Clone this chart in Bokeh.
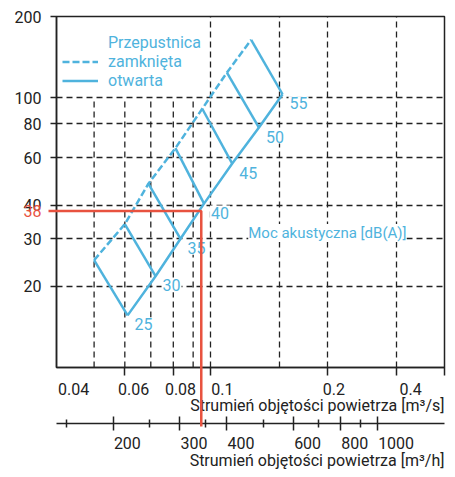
import math
from bokeh.plotting import figure
from bokeh.models import (Range1d, LogAxis, FixedTicker, Legend, LegendItem, Label, Title)
from bokeh.core.properties import value
from bokeh.embed import file_html
from bokeh.resources import INLINE

# ---------------- data ----------------
db_levels = [25, 30, 35, 40, 45, 50, 55]
closed_flow = [0.050, 0.060, 0.069, 0.081, 0.095, 0.110, 0.127]   # m3/s, damper closed
closed_dp = [25, 34, 48, 65, 91, 124, 164]                         # Pa
open_flow = [0.061, 0.072, 0.0835, 0.096, 0.1135, 0.133, 0.153]   # m3/s, damper open
open_dp = [15.6, 21.8, 30, 40.5, 57, 77.5, 103]                    # Pa

read_dp = 38            # Pa, example reading
read_flow_m3h = 340     # m3/h, example reading

y_ticks = [20, 30, 40, 60, 80, 100, 200]
x_ticks = [0.06, 0.08, 0.1, 0.2, 0.3, 0.4]
x_label_at = [0.0443, 0.0632, 0.0835, 0.1071, 0.2074, 0.327]
x_label_text = ["0.04", "0.06", "0.08", "0.1", "0.2", "0.4"]
mh_major = [200, 300, 400, 600, 800, 1000]
mh_minor = [150, 250, 350, 500, 700, 900]
hgrid = [20, 30, 40, 60, 80, 100]
full_vgrid = [0.1, 0.15, 0.2, 0.3]
short_vgrid = [0.05, 0.06, 0.07, 0.08, 0.09]
short_vgrid_top = 100

X_RANGE = (0.04, 0.4)
Y_RANGE = (10, 200)
MH_RANGE = (141.5, 1506)

# ---------------- layout / style ----------------
W, H = 455, 477
B_LEFT, B_RIGHT, B_TOP, B_BOTTOM = 56, 11, 16, 110
FRAME_W = W - B_LEFT - B_RIGHT
FRAME_H = H - B_TOP - B_BOTTOM
AX2_GAP = 59          # px from frame bottom down to the m3/h axis line
RED_OVERHANG = 8      # px the red reading line sticks out left of the frame
SPACER = 13           # px of empty band between the m3/s title and the m3/h axis

BLUE = "#4FB3DD"
RED = "#E8523F"
INK = "#222222"
FONT = "Roboto"
GRID_DASH = "6 4"

px_dec_x = FRAME_W / math.log10(X_RANGE[1] / X_RANGE[0])
px_dec_y = FRAME_H / math.log10(Y_RANGE[1] / Y_RANGE[0])
px_dec_mh = FRAME_W / math.log10(MH_RANGE[1] / MH_RANGE[0])
y_ax2 = Y_RANGE[0] * 10 ** (-AX2_GAP / px_dec_y)
x_overhang = X_RANGE[0] * 10 ** (-RED_OVERHANG / px_dec_x)
# m3/h labels sit to the right of their ticks (left-aligned)
mh_label_at = [v * 10 ** (4.7 * len(str(v)) / px_dec_mh) for v in mh_major]

p = figure(width=W, height=H, x_axis_type="log", y_axis_type="log",
           x_range=Range1d(*X_RANGE), y_range=Range1d(*Y_RANGE),
           output_backend="svg", toolbar_location=None,
           min_border_left=B_LEFT, min_border_right=B_RIGHT, min_border_top=B_TOP,
           min_border_bottom=B_BOTTOM)
p.background_fill_color = "white"
p.border_fill_color = "white"
p.outline_line_color = INK
p.outline_line_width = 1.5
p.extra_x_ranges = {"mh": Range1d(*MH_RANGE)}

# grids
p.ygrid[0].ticker = FixedTicker(ticks=hgrid)
p.xgrid[0].ticker = FixedTicker(ticks=full_vgrid)
for g in (p.xgrid[0], p.ygrid[0]):
    g.grid_line_color = INK
    g.grid_line_dash = GRID_DASH
    g.grid_line_width = 1.3
p.segment(x0=short_vgrid, y0=[Y_RANGE[0]] * len(short_vgrid),
          x1=short_vgrid, y1=[short_vgrid_top] * len(short_vgrid),
          line_color=INK, line_dash=GRID_DASH, line_width=1.3)


def style_axis(ax, color=INK, label_size="16px"):
    ax.axis_line_color = color
    ax.axis_line_width = 1.5
    ax.major_tick_line_color = color
    ax.major_tick_line_width = 1.5
    ax.minor_tick_line_color = color
    ax.minor_tick_line_width = 1.5
    ax.major_label_text_font = FONT
    ax.major_label_text_font_size = label_size
    ax.major_label_text_color = color


def axis_title(text, standoff):
    return Title(text=text, align="right", text_font=FONT, text_font_size="16px",
                 text_font_style="normal", text_color=INK, standoff=standoff)


# y axis
ya = p.yaxis[0]
style_axis(ya)
ya.ticker = FixedTicker(ticks=y_ticks)
ya.major_label_overrides = {v: str(v) for v in y_ticks}
ya.major_tick_out = 6
ya.major_tick_in = 0
ya.minor_tick_line_color = None
ya.major_label_standoff = 9

# x axis (m3/s): tick marks as minor ticks, labels where the picture has them
xa = p.xaxis[0]
style_axis(xa)
xa.ticker = FixedTicker(ticks=x_label_at, minor_ticks=x_ticks)
xa.major_label_overrides = {v: t for v, t in zip(x_label_at, x_label_text)}
xa.major_tick_out = 0
xa.major_tick_in = 0
xa.minor_tick_out = 8
xa.minor_tick_in = 0
xa.major_label_standoff = 7

p.add_layout(axis_title("Strumień objętości powietrza [m³/s]", -8), "below")

# white spacer band between the two flow axes (one white tick at the far left)
spacer_at = X_RANGE[0] * 10 ** (4 / px_dec_x)
spacer = LogAxis(ticker=FixedTicker(ticks=[spacer_at], minor_ticks=[]))
spacer.axis_line_color = None
spacer.major_tick_line_color = "white"
spacer.major_tick_line_width = 1
spacer.minor_tick_line_color = None
spacer.major_tick_out = SPACER
spacer.major_tick_in = 0
spacer.major_label_overrides = {spacer_at: ""}
spacer.major_label_text_font_size = "1px"
spacer.major_label_standoff = 0
p.add_layout(spacer, "below")

# second x axis (m3/h): line + ticks
ax2 = LogAxis(x_range_name="mh", ticker=FixedTicker(ticks=mh_major, minor_ticks=mh_minor))
style_axis(ax2, label_size="1px")
ax2.major_label_overrides = {v: "" for v in mh_major}
ax2.major_label_standoff = 0
ax2.major_tick_in = 7
ax2.major_tick_out = 7
ax2.minor_tick_in = 4
ax2.minor_tick_out = 4
p.add_layout(ax2, "below")

# second x axis (m3/h): labels
ax2l = LogAxis(x_range_name="mh", ticker=FixedTicker(ticks=mh_label_at, minor_ticks=[]))
style_axis(ax2l)
ax2l.axis_line_color = None
ax2l.major_tick_line_color = None
ax2l.minor_tick_line_color = None
ax2l.major_tick_in = 0
ax2l.major_tick_out = 0
ax2l.major_label_overrides = {a: str(v) for a, v in zip(mh_label_at, mh_major)}
ax2l.major_label_standoff = 6
p.add_layout(ax2l, "below")

p.add_layout(axis_title("Strumień objętości powietrza [m³/h]", -6), "below")

# diagram
dummy = p.line(x=[], y=[], line_alpha=0)
closed_r = p.line(closed_flow, closed_dp, line_color=BLUE, line_width=2.5, line_dash="7 3")
open_r = p.line(open_flow, open_dp, line_color=BLUE, line_width=2.5)
p.segment(x0=closed_flow, y0=closed_dp, x1=open_flow, y1=open_dp,
          line_color=BLUE, line_width=2.5)
p.text(x=open_flow, y=open_dp, text=[str(d) for d in db_levels],
       x_offset=6, y_offset=9, text_align="left", text_baseline="middle",
       text_color=BLUE, text_font=value(FONT), text_font_size="16px",
       background_fill_color="white", padding=1)

p.add_layout(Label(x=0.1248, y=31.5, text="Moc akustyczna [dB(A)]",
                   text_baseline="middle", text_color=BLUE,
                   text_font=FONT, text_font_size="15px",
                   background_fill_color="white"))

# example reading (red), drawn on the overlay level so it may leave the frame
read_flow = read_flow_m3h / 3600.0
p.line([x_overhang, read_flow, read_flow], [read_dp, read_dp, y_ax2],
       line_color=RED, line_width=2.5, level="overlay")
p.text(x=[X_RANGE[0]], y=[read_dp], text=[str(read_dp)], x_offset=-15,
       text_align="right", text_baseline="middle", text_color=RED,
       text_font=value(FONT), text_font_size="16px", level="overlay")

legend = Legend(items=[LegendItem(label="Przepustnica", renderers=[dummy]),
                       LegendItem(label="zamknięta", renderers=[closed_r]),
                       LegendItem(label="otwarta", renderers=[open_r])],
                location=(6, 277), padding=0, margin=0, spacing=0,
                glyph_width=36, glyph_height=19, label_height=19, label_standoff=10,
                background_fill_alpha=0, border_line_alpha=0,
                label_text_color=BLUE, label_text_font=FONT, label_text_font_size="16px")
p.add_layout(legend)

open("out.html", "w").write(file_html(p, INLINE))
